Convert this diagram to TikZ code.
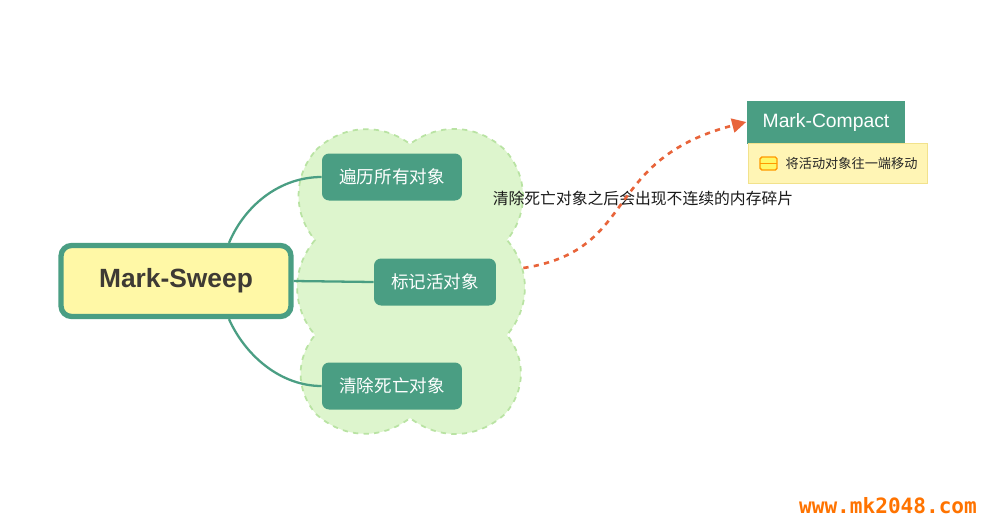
\documentclass[tikz,border=0pt]{standalone}
\usepackage{fontspec}
\setmainfont{Noto Sans CJK SC}
\newfontfamily\latinfont{Liberation Sans}
\newfontfamily\sitefont{DejaVu Sans Mono}
\usetikzlibrary{arrows.meta}
\definecolor{topicgreen}{HTML}{4A9E83}
\definecolor{cloudfill}{HTML}{DDF5CD}
\definecolor{cloudline}{HTML}{B9E3A3}
\definecolor{mainfill}{HTML}{FFF8A6}
\definecolor{notefill}{HTML}{FFF5B5}
\definecolor{noteline}{HTML}{F2E28C}
\definecolor{arrowred}{HTML}{E8643A}
\tikzset{
  topic/.style = {fill = topicgreen, text = white, rounded corners = 4pt, minimum width = 2.8cm, minimum height = 0.94cm, font = \fontsize{10}{12}\selectfont},
  link/.style = {draw = topicgreen, line width = 1.3pt},
}
\begin{document}
\begin{tikzpicture}[x = 0.02cm, y = -0.02cm]
	\useasboundingbox (0, 0) rectangle (1000, 518);
	%Cloud
	\draw[cloudline, fill = cloudfill, dashed, line width = 1pt]
		(316, 150) to[bend left = 40] (410, 144) to[bend left = 40] (505, 150)
		to[bend left = 40] (507, 240) to[bend left = 40] (507, 335) to[bend left = 40] (505, 414)
		to[bend left = 40] (410, 418) to[bend left = 40] (316, 414)
		to[bend left = 40] (315, 335) to[bend left = 40] (315, 240) to[bend left = 40] (316, 150);
	%Nodes
	\node[draw = topicgreen, line width = 3pt, fill = mainfill, rounded corners = 6pt, minimum width = 4.6cm, minimum height = 1.42cm, text = black!75!yellow!50!black, font = \fontsize{15}{17}\selectfont\latinfont\bfseries] (sweep) at (176, 281) {Mark-Sweep};
	\node[topic] (walk) at (392, 177) {遍历所有对象};
	\node[topic, minimum width = 2.44cm] (mark) at (435, 282) {标记活对象};
	\node[topic] (clean) at (392, 386) {清除死亡对象};
	\node[fill = topicgreen, text = white, minimum width = 3.18cm, minimum height = 0.86cm, font = \fontsize{11}{13}\selectfont\latinfont] (compact) at (826, 122) {Mark-Compact};
	\node[draw = noteline, fill = notefill, minimum width = 3.58cm, minimum height = 0.8cm, anchor = north west, font = \fontsize{7.5}{9}\selectfont, text = black!85] (note) at (748, 143) {\hspace{0.55cm}将活动对象往一端移动};
	\draw[draw = orange!80!yellow, fill = yellow!60, rounded corners = 1pt, line width = 0.8pt] (760, 157) rectangle (777, 170);
	\draw[orange!80!yellow, line width = 0.8pt] (760, 163.5) -- (777, 163.5);
	\node[font = \fontsize{9}{11}\selectfont, text = black!90] (gap) at (643, 198) {清除死亡对象之后会出现不连续的内存碎片};
	%Links
	\draw[link] (sweep.north) ++(53, 0) coordinate (s1) .. controls (245, 205) and (280, 177) .. (walk.west);
	\draw[link] (sweep.east) -- (mark.west);
	\draw[link] (sweep.south) ++(53, 0) coordinate (s2) .. controls (245, 355) and (280, 386) .. (clean.west);
	\draw[arrowred, dashed, line width = 1.5pt, -{Triangle[length = 8pt, width = 8pt]}] (mark.east) ++(27, -14) coordinate (m1) .. controls (640, 250) and (600, 160) .. (compact.west);
	%Watermark
	\node[text = orange!90!red, font = \fontsize{12}{14}\selectfont\sitefont\bfseries] (site) at (888, 506) {www.mk2048.com};
\end{tikzpicture}
\end{document}
